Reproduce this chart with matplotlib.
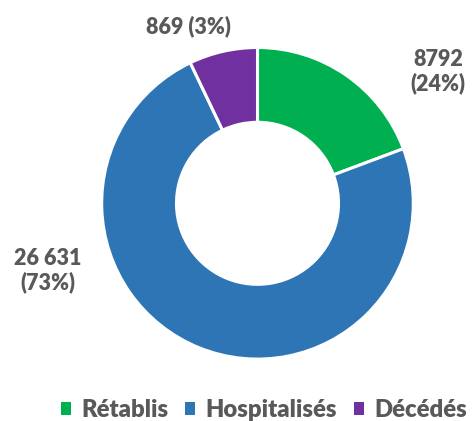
import matplotlib
matplotlib.use("Agg")
import matplotlib.pyplot as plt
from matplotlib.patches import Patch

# ---- data ----
categories = ["Rétablis", "Hospitalisés", "Décédés"]
counts_text = ["8792", "26 631", "869"]
percent_text = ["24%", "73%", "3%"]
# slice shares as drawn in the picture (%)
slice_shares = [19.3, 73.6, 7.1]
colors = ["#00B050", "#2E75B6", "#7030A0"]

plt.rcParams['font.family'] = ['Lato', 'DejaVu Sans']
text_color = "#595959"
fs = 15.5
leg_fs = 17.2

fig = plt.figure(figsize=(4.73, 4.21), dpi=100)
fig.patch.set_facecolor("white")

R = 155.8
cx, cy = 257.5, 203.3
W, H = 473, 421
ax = fig.add_axes([(cx - R) / W, (H - cy - R) / H, 2 * R / W, 2 * R / H])

wedges, _ = ax.pie(slice_shares, colors=colors, startangle=90, counterclock=False,
                   radius=1.0,
                   wedgeprops=dict(width=0.48, edgecolor="white", linewidth=2.2))
ax.set_xlim(-1, 1)
ax.set_ylim(-1, 1)
ax.axis("off")

label_pos = [(1.158, 0.845), (-1.345, -0.43), (-0.446, 1.135)]
label_text = [counts_text[0] + "\n(" + percent_text[0] + ")",
              counts_text[1] + "\n(" + percent_text[1] + ")",
              counts_text[2] + " (" + percent_text[2] + ")"]
for (x, y), t in zip(label_pos, label_text):
    ax.text(x, y, t, ha="center", va="center", fontsize=fs, fontweight="heavy",
            color=text_color, linespacing=1.15, clip_on=False)

handles = [Patch(facecolor=c, edgecolor="none") for c in colors]
leg = fig.legend(handles, categories, loc="center", bbox_to_anchor=(264 / W, 1 - 410 / H),
                 ncol=3, frameon=False, fontsize=leg_fs, handlelength=0.42, handleheight=0.42,
                 handletextpad=0.42, columnspacing=0.72, borderaxespad=0, borderpad=0)
for t in leg.get_texts():
    t.set_color(text_color)
    t.set_fontweight("heavy")

fig.savefig("out.png", dpi=100, facecolor="white")
